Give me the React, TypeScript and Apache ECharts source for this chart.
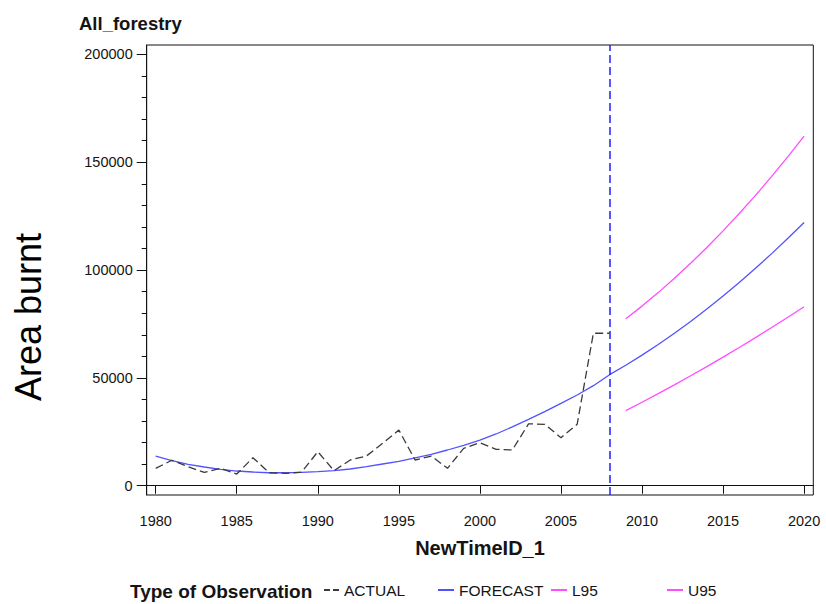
import React, { useEffect, useRef } from "react";
import * as echarts from "echarts";

// ---- data ----
const actualYears = [1980, 1981, 1982, 1983, 1984, 1985, 1986, 1987, 1988, 1989, 1990, 1991, 1992, 1993, 1994, 1995, 1996, 1997, 1998, 1999, 2000, 2001, 2002, 2003, 2004, 2005, 2006, 2007, 2008];
const actualValues = [8070, 11800, 8800, 6200, 8070, 5430, 13000, 6030, 5750, 6300, 15780, 6960, 11930, 13780, 19670, 25850, 11930, 13780, 8070, 17350, 19950, 16890, 16570, 28700, 28490, 22300, 28490, 70720, 70720];

const forecastYears = [1980, 1981, 1982, 1983, 1984, 1985, 1986, 1987, 1988, 1989, 1990, 1991, 1992, 1993, 1994, 1995, 1996, 1997, 1998, 1999, 2000, 2001, 2002, 2003, 2004, 2005, 2006, 2007, 2008, 2009, 2010, 2011, 2012, 2013, 2014, 2015, 2016, 2017, 2018, 2019, 2020];
const forecastValues = [13780, 11600, 9930, 8680, 7610, 6820, 6360, 6030, 6030, 6220, 6500, 6960, 7750, 8820, 10070, 11320, 12950, 14570, 16570, 18750, 21200, 24000, 27300, 30800, 34400, 38200, 42100, 46400, 51500, 55900, 60570, 65510, 70720, 76200, 81950, 87970, 94260, 100820, 107650, 114750, 122120];

const boundYears = [2009, 2010, 2011, 2012, 2013, 2014, 2015, 2016, 2017, 2018, 2019, 2020];
const l95Values = [34800, 38700, 42700, 46790, 50980, 55260, 59640, 64120, 68690, 73360, 78120, 82980];
const u95Values = [77400, 83300, 89560, 96180, 103160, 110500, 118200, 126260, 134680, 143460, 152600, 162100];

const forecastStart = 2008;

const xTickLabels = [1980, 1985, 1990, 1995, 2000, 2005, 2010, 2015, 2020];
const yTickLabels = [0, 50000, 100000, 150000, 200000];
const yMinorTicks = [10000, 20000, 30000, 40000, 60000, 70000, 80000, 90000, 110000, 120000, 130000, 140000, 160000, 170000, 180000, 190000];

const FONT = "'Liberation Sans', Arial, sans-serif";
const TXT = "#141414";

const pairs = (xs: number[], ys: number[]) => xs.map((x, i) => [x, ys[i]]);

export default function App() {
  const ref = useRef<HTMLDivElement>(null);

  useEffect(() => {
    if (!ref.current) return;
    const chart = echarts.init(ref.current, null, { renderer: "svg" });
    const legendCommon = {
      top: 582,
      padding: 0,
      itemHeight: 2,
      itemWidth: 16,
      selectedMode: false,
      itemStyle: { borderWidth: 0 },
      textStyle: { fontFamily: FONT, fontSize: 15.5, color: TXT },
    };
    chart.setOption({
      animation: false,
      backgroundColor: "#ffffff",
      title: {
        text: "All_forestry",
        left: 74,
        top: 9,
        textStyle: { fontFamily: FONT, fontSize: 18.5, fontWeight: "bold", color: TXT },
      },
      grid: {
        left: 146.7,
        right: 12.7,
        top: 45,
        bottom: 109,
        show: true,
        borderColor: "#111",
        borderWidth: 1,
        backgroundColor: "transparent",
      },
      xAxis: {
        type: "value",
        min: 1979.445,
        max: 2020.567,
        name: "NewTimeID_1",
        nameLocation: "middle",
        nameGap: 43,
        nameTextStyle: { fontFamily: FONT, fontSize: 20, fontWeight: "bold", color: TXT },
        axisLine: { show: true, lineStyle: { color: "#111", width: 1 } },
        axisTick: { show: true, length: 8, customValues: xTickLabels, lineStyle: { color: "#111" } },
        axisLabel: {
          customValues: xTickLabels,
          margin: 18,
          fontFamily: FONT,
          fontSize: 14.5,
          color: TXT,
          formatter: (v: number) => String(v),
        },
        splitLine: { show: false },
      },
      yAxis: [
        {
          type: "value",
          min: -4300,
          max: 204400,
          axisLine: { show: true, lineStyle: { color: "#111", width: 1 } },
          axisTick: { show: true, length: 10, customValues: yTickLabels, lineStyle: { color: "#111" } },
          axisLabel: {
            customValues: yTickLabels,
            margin: 14,
            fontFamily: FONT,
            fontSize: 14.5,
            color: TXT,
            formatter: (v: number) => String(v),
          },
          splitLine: { show: false },
        },
        {
          type: "value",
          min: -4300,
          max: 204400,
          position: "left",
          axisLine: { show: false },
          axisTick: { show: true, length: 5, customValues: yMinorTicks, lineStyle: { color: "#111" } },
          axisLabel: { show: false },
          splitLine: { show: false },
        },
      ],
      legend: [
        { ...legendCommon, left: 324, itemWidth: 15, data: [{ name: "ACTUAL", icon: "path://M0,0H6V2H0Z M9,0H15V2H9Z" }] },
        { ...legendCommon, left: 438, data: [{ name: "FORECAST", icon: "rect" }] },
        { ...legendCommon, left: 551, data: [{ name: "L95", icon: "rect" }] },
        { ...legendCommon, left: 667, data: [{ name: "U95", icon: "rect" }] },
      ],
      graphic: [
        {
          type: "text",
          x: 28,
          y: 317,
          rotation: Math.PI / 2,
          style: {
            text: "Area burnt",
            fontFamily: FONT,
            fontSize: 36,
            fill: "#000",
            textAlign: "center",
            textVerticalAlign: "middle",
          },
        },
        {
          type: "text",
          x: 130,
          y: 591,
          style: {
            text: "Type of Observation",
            fontFamily: FONT,
            fontSize: 19,
            fontWeight: "bold",
            fill: TXT,
            textAlign: "left",
            textVerticalAlign: "middle",
          },
        },
      ],
      series: [
        {
          name: "ACTUAL",
          type: "line",
          data: pairs(actualYears, actualValues),
          showSymbol: false,
          symbol: "none",
          color: "#3a3a3a",
          itemStyle: { color: "#3a3a3a" },
          lineStyle: { color: "#3a3a3a", width: 1.3, type: [8, 4] },
          z: 3,
        },
        {
          name: "FORECAST",
          type: "line",
          data: pairs(forecastYears, forecastValues),
          showSymbol: false,
          symbol: "none",
          smooth: false,
          color: "#5252ff",
          itemStyle: { color: "#5252ff" },
          lineStyle: { color: "#5252ff", width: 1.3 },
          z: 2,
          markLine: {
            silent: true,
            symbol: ["none", "none"],
            label: { show: false },
            emphasis: { disabled: true },
            lineStyle: { color: "#1f1fff", width: 1.5, type: [8, 4], opacity: 1 },
            data: [{ xAxis: forecastStart }],
          },
        },
        {
          name: "L95",
          type: "line",
          data: pairs(boundYears, l95Values),
          showSymbol: false,
          symbol: "none",
          color: "#ff4dff",
          itemStyle: { color: "#ff4dff" },
          lineStyle: { color: "#ff4dff", width: 1.3 },
        },
        {
          name: "U95",
          type: "line",
          data: pairs(boundYears, u95Values),
          showSymbol: false,
          symbol: "none",
          color: "#ff4dff",
          itemStyle: { color: "#ff4dff" },
          lineStyle: { color: "#ff4dff", width: 1.3 },
        },
      ],
    });
    return () => chart.dispose();
  }, []);

  return (
    <div
      ref={ref}
      style={{ position: "fixed", left: 0, top: 0, width: 826, height: 604, background: "#fff" }}
    />
  );
}
